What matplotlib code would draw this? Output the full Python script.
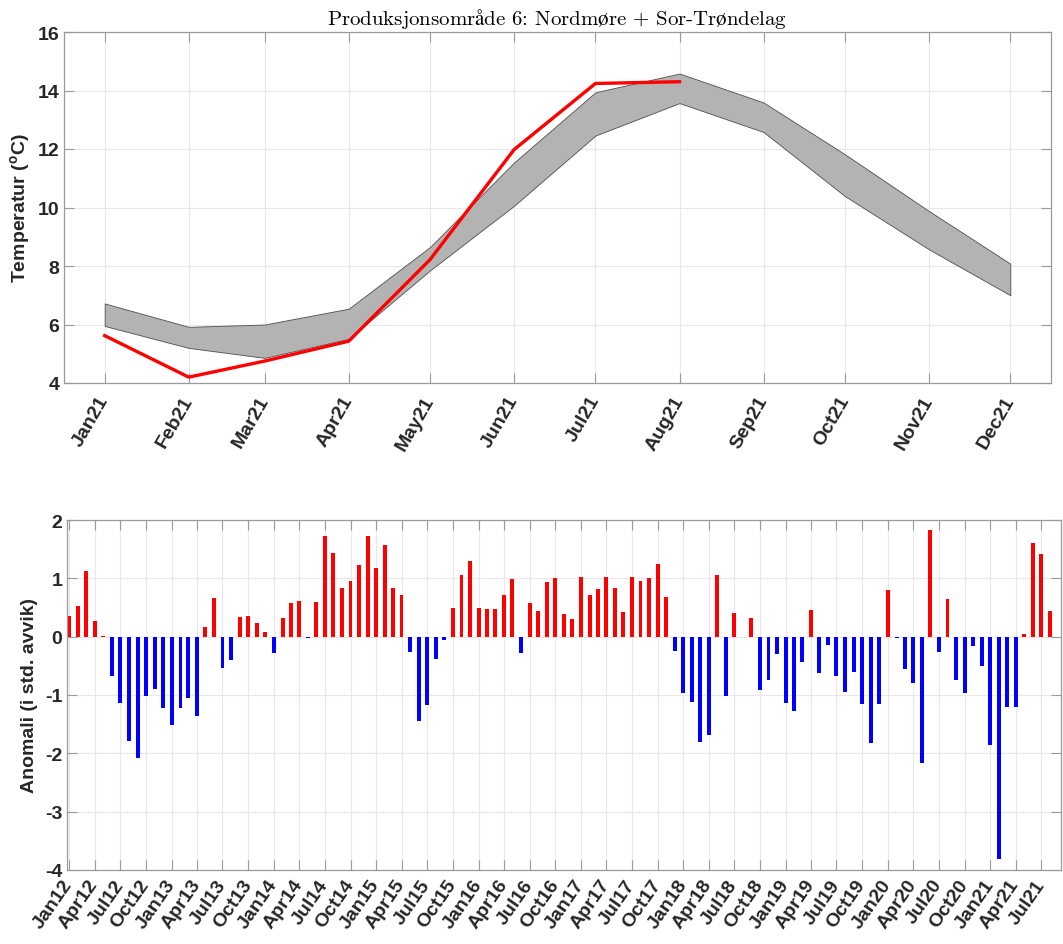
import matplotlib
matplotlib.use("Agg")
import matplotlib.pyplot as plt
import numpy as np
import pandas as pd

plt.rcParams['font.family'] = ['Liberation Sans', 'DejaVu Sans']
plt.rcParams['mathtext.fontset'] = 'custom'
plt.rcParams['mathtext.rm'] = 'Liberation Sans'
plt.rcParams['mathtext.bf'] = 'Liberation Sans:bold'
plt.rcParams['axes.unicode_minus'] = False

# monthly climatology band and this year's temperature (degC)
months = pd.date_range('2021-01-01', '2021-12-01', freq='MS')
month_labels = ['Jan21', 'Feb21', 'Mar21', 'Apr21', 'May21', 'Jun21',
                'Jul21', 'Aug21', 'Sep21', 'Oct21', 'Nov21', 'Dec21']
band_upper = [6.72, 5.92, 6.00, 6.54, 8.65, 11.54, 13.94, 14.58, 13.59, 11.82, 9.88, 8.08]
band_lower = [5.95, 5.20, 4.86, 5.51, 7.85, 10.06, 12.46, 13.57, 12.58, 10.39, 8.57, 7.00]
temp_2021 = [5.62, 4.20, 4.75, 5.43, 8.22, 11.98, 14.24, 14.30]

# monthly anomalies in standard deviations, Jan 2012 - Aug 2021
anom_months = pd.date_range('2012-01-01', '2021-08-01', freq='MS')
anomaly = [
    0.36, 0.52, 1.12, 0.27, 0.01, -0.68, -1.13, -1.79, -2.08, -1.02, -0.90, -1.23,
    -1.52, -1.22, -1.05, -1.36, 0.17, 0.66, -0.53, -0.40, 0.34, 0.35, 0.23, 0.08,
    -0.28, 0.32, 0.58, 0.62, -0.02, 0.60, 1.73, 1.44, 0.83, 0.95, 1.23, 1.73,
    1.17, 1.58, 0.84, 0.71, -0.26, -1.44, -1.17, -0.39, -0.05, 0.50, 1.06, 1.29,
    0.50, 0.48, 0.47, 0.72, 0.99, -0.28, 0.57, 0.44, 0.93, 1.01, 0.39, 0.30,
    1.02, 0.71, 0.81, 1.02, 0.83, 0.43, 1.03, 0.95, 1.00, 1.24, 0.68, -0.24,
    -0.96, -1.12, -1.80, -1.69, 1.06, -1.01, 0.41, 0.00, 0.32, -0.92, -0.75, -0.30,
    -1.13, -1.28, -0.44, 0.45, -0.63, -0.15, -0.67, -0.94, -0.60, -1.16, -1.82, -1.16,
    0.80, -0.03, -0.55, -0.79, -2.17, 1.83, -0.27, 0.65, -0.74, -0.97, -0.16, -0.50,
    -1.85, -3.81, -1.20, -1.20, 0.04, 1.61, 1.42, 0.44,
]
anom_ticks = pd.date_range('2012-01-01', '2021-07-01', freq='3MS')
anom_tick_labels = [d.strftime('%b%y') for d in anom_ticks]

W, H = 1063, 945
fig = plt.figure(figsize=(W / 100, H / 100), dpi=100)
ax1 = fig.add_axes([64 / W, 1 - 384 / H, (1051 - 64) / W, (384 - 33) / H])
ax2 = fig.add_axes([67 / W, 1 - 871 / H, (1061 - 67) / W, (871 - 521) / H])

spine_col = '#9a9a9a'


def style(ax):
    ax.grid(True, color='#e8e8e8', linewidth=0.8)
    ax.set_axisbelow(True)
    for s in ax.spines.values():
        s.set_color(spine_col)
        s.set_linewidth(0.9)
    ax.tick_params(direction='in', length=7, width=0.8, color=spine_col,
                   top=True, right=True, labelsize=14, labelcolor='#262626')
    for lab in ax.get_yticklabels():
        lab.set_fontweight('bold')


# top panel: band + current year
ax1.fill_between(months, band_lower, band_upper, facecolor=(0.7, 0.7, 0.7),
                 edgecolor=(0.3, 0.3, 0.3), linewidth=0.6, zorder=2)
ax1.plot(months[:len(temp_2021)], temp_2021, color='red', linewidth=2.4, zorder=3)
ax1.set_xlim(pd.Timestamp('2020-12-17'), pd.Timestamp('2021-12-16'))
ax1.set_ylim(4, 16)
ax1.set_yticks(np.arange(4, 17, 2))
ax1.set_xticks(months)
ax1.set_xticklabels(month_labels, rotation=60, ha='right', va='center',
                    rotation_mode='anchor', fontweight='bold')
style(ax1)
ax1.tick_params(axis='x', pad=10)
ax1.set_ylabel(r'Temperatur ($^{\mathbf{o}}$C)', fontsize=14, fontweight='bold',
               color='#262626', labelpad=3)
title = r'Produksjonsomr$\mathrm{å}$de 6: Nordm$\mathrm{ø}$re + Sor-Tr$\mathrm{ø}$ndelag'
ax1.set_title(title, family='cmr10', math_fontfamily='cm', fontsize=15, pad=6)

# bottom panel: anomaly bars
colors = ['red' if v > 0 else 'blue' for v in anomaly]
ax2.bar(anom_months, anomaly, width=14, color=colors, zorder=2)
ax2.set_xlim(pd.Timestamp('2011-12-24'), pd.Timestamp('2021-09-10'))
ax2.set_ylim(-4, 2)
ax2.set_yticks(np.arange(-4, 3, 1))
ax2.set_xticks(anom_ticks)
ax2.set_xticklabels(anom_tick_labels, rotation=55, ha='right', va='center',
                    rotation_mode='anchor', fontweight='bold', fontsize=13)
style(ax2)
ax2.tick_params(axis='x', pad=8)
ax2.set_ylabel('Anomali (i std. avvik)', fontsize=14, fontweight='bold',
               color='#262626', labelpad=5)

fig.savefig('out.png', dpi=100)
